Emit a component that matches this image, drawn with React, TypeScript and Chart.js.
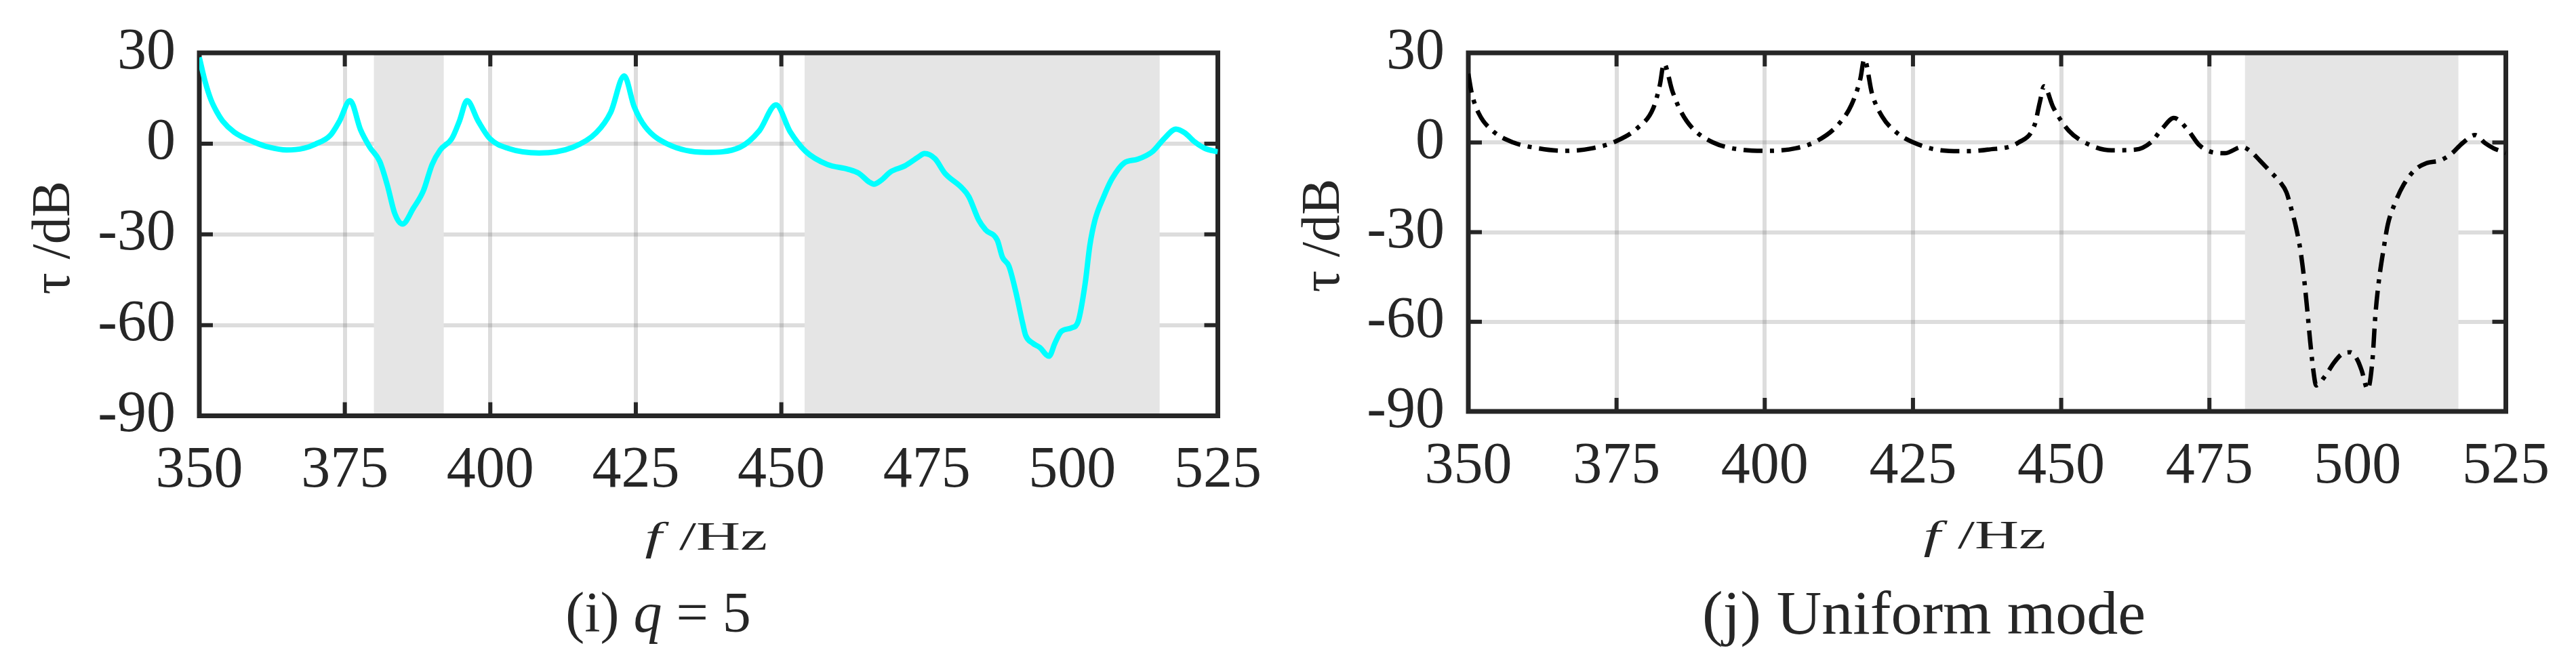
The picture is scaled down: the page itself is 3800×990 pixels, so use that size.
import React, { useEffect, useRef } from "react";
import { Chart, registerables } from "chart.js";

Chart.register(...registerables);

// ---------- data ----------
const xTickValues = [350, 375, 400, 425, 450, 475, 500, 525];
const yTickValues = [-90, -60, -30, 0, 30];

// (i) q = 5
const q5Freq = [
  350.0, 351.0, 352.0, 353.0, 354.0, 356.0, 359.3, 362.0, 365.0, 368.0, 369.9, 372.5, 374.1, 375.9,
  377.7, 379.3, 381.0, 382.3, 383.6, 384.9, 386.8, 388.5, 390.0, 391.4, 393.4, 394.7, 396.0,
  397.9, 399.9, 403.1, 408.4, 414.2, 418.2, 420.7, 423.0, 424.7, 426.6, 430.5, 437.0, 442.9,
  446.2, 449.1, 451.5, 454.2, 457.9, 461.5, 463.3, 465.1, 465.9, 467.1, 468.8, 471.2, 473.5,
  474.6, 476.4, 478.1, 481.0, 482.2, 483.9, 485.1, 487.1, 488.0, 489.1, 490.3, 491.5, 492.0,
  493.2, 494.4, 496.0, 497.0, 498.1, 499.9, 501.0, 502.2, 503.0, 503.9, 505.4, 506.8, 508.9,
  511.2, 513.8, 515.8, 517.8, 519.3, 521.0, 522.8, 525.0,
];
const q5Tau = [
  28.5, 20.5, 14.5, 10.5, 7.5, 3.8, 0.6, -1.2, -2.1, -1.5, -0.2, 2.7, 7.5, 14.2,
  4.6, -1.2, -5.9, -13.7, -23.2, -26.6, -21.3, -15.6, -6.9, -2.1, 1.7, 7.5, 14.2,
  7.5, 1.7, -1.6, -3.1, -1.2, 3.6, 10.4, 22.4, 12.3, 5.6, -0.2, -2.9, -1.2,
  4.2, 12.8, 4.0, -2.6, -6.9, -8.5, -9.8, -12.7, -13.4, -12.2, -9.3, -7.4, -4.5,
  -3.3, -5.0, -9.8, -14.6, -17.5, -25.2, -28.5, -31.9, -37.6, -40.5, -49.1, -59.7, -63.5,
  -66.0, -67.4, -70.3, -66.0, -62.1, -60.9, -58.8, -46.3, -33.8, -25.2, -17.5, -11.7, -6.4,
  -5.2, -2.6, 1.7, 4.8, 3.6, 0.6, -1.6, -2.7,
];
const q5Bands = [
  [380, 392],
  [454, 515],
];

// (j) Uniform mode
const uniformFreq = [
  350.0, 350.6, 351.8, 354.1, 357.6, 361.7, 366.3, 371.0, 375.0, 378.5, 381.2, 382.3, 383.0,
  384.4, 385.8, 387.8, 391.3, 396.0, 400.6, 405.3, 408.8, 412.3, 414.6, 416.1, 416.8, 418.1,
  419.8, 422.2, 425.1, 429.7, 433.7, 437.6, 442.8, 445.5, 446.4, 447.1, 448.7, 451.3, 454.6,
  458.5, 462.5, 465.1, 467.1, 469.0, 471.3, 473.3, 475.4, 477.6, 480.5, 481.9, 483.5, 485.4,
  486.9, 488.0, 488.8, 489.6, 490.3, 490.9, 491.5, 492.0, 492.6, 493.0, 494.5, 496.0, 497.3,
  498.8, 500.0, 500.7, 501.7, 502.5, 503.0, 503.6, 504.4, 505.1, 506.3, 507.8, 509.7, 511.6,
  513.9, 515.8, 517.7, 519.8, 521.5, 523.0, 524.2, 525.0,
];
const uniformTau = [
  23.0, 16.3, 9.6, 3.9, 0.0, -1.9, -2.8, -1.9, 0.5, 4.8, 11.5, 19.2, 26.4,
  17.3, 10.6, 4.8, 0.0, -2.4, -2.8, -1.9, 0.5, 5.8, 12.5, 21.1, 27.9, 16.3,
  8.7, 3.4, 0.0, -2.6, -2.9, -2.4, 0.0, 5.8, 13.5, 18.8, 11.6, 3.9, -0.6,
  -2.6, -2.4, 0.0, 4.8, 8.2, 4.4, -0.9, -3.2, -3.6, -1.5, -2.9, -6.0, -10.0,
  -13.2, -16.7, -22.1, -28.3, -35.4, -44.3, -55.9, -66.6, -77.3, -81.3, -78.2, -73.7, -70.9,
  -70.2, -72.9, -76.4, -82.6, -72.9, -57.7, -46.1, -35.4, -27.4, -20.3, -14.0, -9.1, -6.9,
  -6.0, -3.8, -0.2, 2.5, -0.2, -2.0, -2.9, -3.5,
];
const uniformBands = [[481, 517]];

// ---------- styling ----------
const FONT = '"Liberation Serif", "Times New Roman", serif';
const INK = "#262626";
const CANVAS_W = 1900;
const CANVAS_H = 990;

type Geometry = {
  left: number;
  right: number;
  top: number;
  bottom: number;
  yTitleBaseline: number;
  xTitleBaseline: number;
};

type PanelProps = {
  offset: number;
  freq: number[];
  tau: number[];
  bands: number[][];
  color: string;
  width: number;
  dash: number[];
  geo: Geometry;
};

function Panel({ offset, freq, tau, bands, color, width, dash, geo }: PanelProps) {
  const ref = useRef<HTMLCanvasElement | null>(null);

  useEffect(() => {
    const canvas = ref.current;
    if (!canvas) return;
    const X_AXIS_H = 150;

    const decor = {
      id: "decor",
      beforeDatasetsDraw(chart: any) {
        const { ctx, chartArea } = chart;
        const xs = chart.scales.x;
        const ys = chart.scales.y;
        const { left, right, top, bottom } = chartArea;
        ctx.save();
        // inner tick marks
        ctx.strokeStyle = INK;
        ctx.lineWidth = 6;
        ctx.beginPath();
        xTickValues.forEach((v) => {
          const px = xs.getPixelForValue(v);
          ctx.moveTo(px, top);
          ctx.lineTo(px, top + 20);
          ctx.moveTo(px, bottom);
          ctx.lineTo(px, bottom - 20);
        });
        yTickValues.forEach((v) => {
          const py = ys.getPixelForValue(v);
          ctx.moveTo(left, py);
          ctx.lineTo(left + 20, py);
          ctx.moveTo(right, py);
          ctx.lineTo(right - 20, py);
        });
        ctx.stroke();
        // shaded bands
        ctx.fillStyle = "#e5e5e5";
        bands.forEach(([a, b]) => {
          const x1 = xs.getPixelForValue(a);
          const x2 = xs.getPixelForValue(b);
          ctx.fillRect(x1, top, x2 - x1, bottom - top);
        });
        // axes box
        ctx.lineWidth = 7;
        ctx.strokeStyle = INK;
        ctx.strokeRect(left, top, right - left, bottom - top);

        // y title
        ctx.fillStyle = INK;
        ctx.save();
        ctx.translate(geo.yTitleBaseline, (top + bottom) / 2 + 5);
        ctx.rotate(-Math.PI / 2);
        ctx.font = `80px ${FONT}`;
        ctx.textAlign = "center";
        ctx.textBaseline = "alphabetic";
        ctx.fillText("\u03c4 /dB", 0, 0);
        ctx.restore();

        // x title (italic f, upright /Hz), widened as in the figure
        ctx.save();
        const sx = 1.5;
        ctx.translate((left + right) / 2 - 5, geo.xTitleBaseline);
        ctx.scale(sx, 1);
        ctx.textBaseline = "alphabetic";
        ctx.textAlign = "left";
        ctx.font = `italic 60px ${FONT}`;
        const wf = ctx.measureText("f").width;
        ctx.font = `60px ${FONT}`;
        const wr = ctx.measureText(" /Hz").width;
        const start = -(wf + wr) / 2;
        ctx.font = `italic 60px ${FONT}`;
        ctx.fillText("f", start, 0);
        ctx.font = `60px ${FONT}`;
        ctx.fillText(" /Hz", start + wf + 2, 0);
        ctx.restore();

        ctx.restore();
      },
    };

    const chart = new Chart(canvas, {
      type: "line",
      data: {
        datasets: [
          {
            data: freq.map((f, i) => ({ x: f, y: tau[i] })),
            borderColor: color,
            borderWidth: width,
            borderDash: dash,
            borderCapStyle: "butt",
            borderJoinStyle: "round",
            pointRadius: 0,
            fill: false,
            cubicInterpolationMode: "monotone",
          },
        ],
      },
      options: {
        animation: false,
        responsive: false,
        devicePixelRatio: 1,
        events: [],
        layout: {
          padding: {
            left: 0,
            top: geo.top,
            right: CANVAS_W - geo.right,
            bottom: CANVAS_H - geo.bottom - X_AXIS_H,
          },
        },
        plugins: {
          legend: { display: false },
          tooltip: { enabled: false },
          title: { display: false },
        },
        scales: {
          x: {
            type: "linear",
            min: 350,
            max: 525,
            afterBuildTicks: (s: any) => {
              s.ticks = xTickValues.map((v) => ({ value: v }));
            },
            afterFit: (s: any) => {
              s.height = X_AXIS_H;
            },
            grid: { color: "rgba(0,0,0,0.135)", lineWidth: 6, drawTicks: false },
            border: { display: false },
            ticks: {
              padding: 39,
              color: INK,
              maxRotation: 0,
              autoSkip: false,
              font: { family: FONT, size: 86, lineHeight: 1 },
            },
          },
          y: {
            type: "linear",
            min: -90,
            max: 30,
            afterBuildTicks: (s: any) => {
              s.ticks = yTickValues.map((v) => ({ value: v }));
            },
            afterFit: (s: any) => {
              s.width = geo.left;
            },
            grid: { color: "rgba(0,0,0,0.135)", lineWidth: 6, drawTicks: false },
            border: { display: false },
            ticks: {
              padding: 35,
              color: INK,
              autoSkip: false,
              font: { family: FONT, size: 86, lineHeight: 1 },
            },
          },
        },
      },
      plugins: [decor],
    } as any);

    return () => chart.destroy();
  }, []);

  return (
    <canvas
      ref={ref}
      width={CANVAS_W}
      height={CANVAS_H}
      style={{ position: "absolute", left: offset, top: 0, width: CANVAS_W, height: CANVAS_H }}
    />
  );
}

function Caption({ center, top, size, children }: { center: number; top: number; size: number; children: any }) {
  return (
    <div
      style={{
        position: "absolute",
        left: center - 600,
        width: 1200,
        top,
        textAlign: "center",
        fontFamily: FONT,
        fontSize: size,
        lineHeight: 1,
        color: INK,
        whiteSpace: "nowrap",
      }}
    >
      {children}
    </div>
  );
}

export default function App() {
  return (
    <div
      style={{
        position: "absolute",
        left: 0,
        top: 0,
        width: 3800,
        height: 990,
        background: "#ffffff",
        overflow: "hidden",
      }}
    >
      <Panel
        offset={0}
        freq={q5Freq}
        tau={q5Tau}
        bands={q5Bands}
        color="#00ffff"
        width={8}
        dash={[]}
        geo={{ left: 294, right: 1834, top: 56.5, bottom: 613.5, yTitleBaseline: 102, xTitleBaseline: 811 }}
      />
      <Panel
        offset={1900}
        freq={uniformFreq}
        tau={uniformTau}
        bands={uniformBands}
        color="#000000"
        width={6.5}
        dash={[28, 11, 6, 11]}
        geo={{ left: 266, right: 1801, top: 48, bottom: 607, yTitleBaseline: 75, xTitleBaseline: 809 }}
      />
      <Caption center={971} top={933 - 71} size={84}>
        (i) <i>q</i> = 5
      </Caption>
      <Caption center={2838} top={935 - 77} size={92}>
        (j) Uniform mode
      </Caption>
    </div>
  );
}
